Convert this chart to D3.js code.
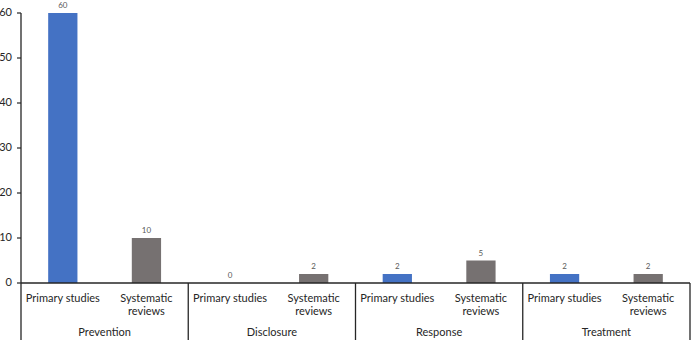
<!DOCTYPE html>
<html>
<head>
<meta charset="utf-8">
<script src="https://cdn.jsdelivr.net/npm/d3@7"></script>
<style>
  body { margin: 0; background: #fff; }
  text { font-family: Lato, "Open Sans", sans-serif; }
</style>
</head>
<body>
<svg id="chart" width="692" height="340"></svg>
<script>
const groups = ['Prevention', 'Disclosure', 'Response', 'Treatment'];
const types = ['Primary studies', 'Systematic reviews'];
const primaryValues = [60, 0, 2, 2];
const reviewValues = [10, 2, 5, 2];
const yTicks = [0, 10, 20, 30, 40, 50, 60];

const colors = { 'Primary studies': '#4472c4', 'Systematic reviews': '#767171' };

const width = 692;
const height = 340;
const plotLeft = 21;
const plotRight = 690;
const plotTop = 13;
const plotBottom = 283;

const rows = [];
groups.forEach((g, i) => {
    rows.push({ group: g, type: types[0], value: primaryValues[i] });
    rows.push({ group: g, type: types[1], value: reviewValues[i] });
});

const svg = d3.select('#chart');

const x0 = d3.scaleBand().domain(groups).range([plotLeft, plotRight]);
const x1 = d3.scaleBand().domain(types).range([0, x0.bandwidth()]).paddingInner(0.65).paddingOuter(0.325);
const y = d3.scaleLinear().domain([0, 60]).range([plotBottom, plotTop]);

// y axis
svg.append('line')
    .attr('x1', plotLeft).attr('x2', plotLeft)
    .attr('y1', y(60)).attr('y2', height)
    .attr('stroke', '#262626').attr('stroke-width', 1.3);

svg.selectAll('g.ytick')
    .data(yTicks)
    .enter()
    .append('g')
    .attr('class', 'ytick')
    .each(function (d) {
        const g = d3.select(this);
        g.append('line')
            .attr('x1', plotLeft - 4).attr('x2', plotLeft)
            .attr('y1', y(d)).attr('y2', y(d))
            .attr('stroke', '#262626').attr('stroke-width', 1.2);
        g.append('text')
            .attr('x', plotLeft - 9).attr('y', y(d))
            .attr('text-anchor', 'end')
            .attr('dominant-baseline', 'middle')
            .attr('font-size', 11)
            .attr('fill', '#262626')
            .text(d);
    });

// bars
svg.selectAll('rect.bar')
    .data(rows)
    .enter()
    .append('rect')
    .attr('class', 'bar')
    .attr('x', d => x0(d.group) + x1(d.type))
    .attr('width', x1.bandwidth())
    .attr('y', d => y(d.value))
    .attr('height', d => y(0) - y(d.value))
    .attr('fill', d => colors[d.type]);

// value labels
svg.selectAll('text.value')
    .data(rows)
    .enter()
    .append('text')
    .attr('class', 'value')
    .attr('x', d => x0(d.group) + x1(d.type) + x1.bandwidth() / 2)
    .attr('y', d => y(d.value) - 5)
    .attr('text-anchor', 'middle')
    .attr('font-size', 8)
    .attr('fill', '#595959')
    .text(d => d.value);

// x axis baseline
svg.append('line')
    .attr('x1', plotLeft).attr('x2', plotRight)
    .attr('y1', plotBottom).attr('y2', plotBottom)
    .attr('stroke', '#262626').attr('stroke-width', 1.3);

// group separators
svg.selectAll('line.sep')
    .data(groups.slice(1).concat(['end']))
    .enter()
    .append('line')
    .attr('class', 'sep')
    .attr('x1', d => d === 'end' ? plotRight : x0(d))
    .attr('x2', d => d === 'end' ? plotRight : x0(d))
    .attr('y1', plotBottom).attr('y2', height)
    .attr('stroke', '#262626').attr('stroke-width', 1.3);

// category labels
const catLabels = svg.selectAll('text.cat')
    .data(rows)
    .enter()
    .append('text')
    .attr('class', 'cat')
    .attr('text-anchor', 'middle')
    .attr('font-size', 11)
    .attr('fill', '#262626');

catLabels.each(function (d) {
    const cx = x0(d.group) + x1(d.type) + x1.bandwidth() / 2;
    const words = d.type === 'Systematic reviews' ? ['Systematic', 'reviews'] : [d.type];
    words.forEach((w, i) => {
        d3.select(this).append('tspan')
            .attr('x', cx)
            .attr('y', 302 + i * 13)
            .text(w);
    });
});

// group labels
svg.selectAll('text.group')
    .data(groups)
    .enter()
    .append('text')
    .attr('class', 'group')
    .attr('x', d => x0(d) + x0.bandwidth() / 2)
    .attr('y', 336)
    .attr('text-anchor', 'middle')
    .attr('font-size', 11)
    .attr('fill', '#262626')
    .text(d => d);
</script>
</body>
</html>
